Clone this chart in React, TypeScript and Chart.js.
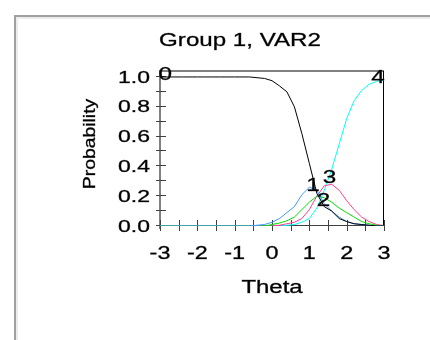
import React, { useEffect, useRef } from "react";
import { Chart, registerables } from "chart.js";

Chart.register(...registerables);

const titleText = "Group 1, VAR2";
const xTitle = "Theta";
const yTitle = "Probability";

const theta = [-3, -2.8, -2.6, -2.4, -2.2, -2, -1.8, -1.6, -1.4, -1.2, -1, -0.8, -0.6, -0.4, -0.2, 0, 0.2, 0.4, 0.6, 0.8, 1, 1.2, 1.4, 1.6, 1.8, 2, 2.2, 2.4, 2.6, 2.8, 3];

const cat0 = [1, 1, 1, 1, 1, 1, 1, 1, 1, 1, 1, 1, 1, 0.995, 0.99, 0.975, 0.94, 0.9, 0.8, 0.62, 0.42, 0.22, 0.13, 0.1, 0.05, 0.03, 0.015, 0.01, 0.005, 0, 0];
const cat1 = [0, 0, 0, 0, 0, 0, 0, 0, 0, 0, 0, 0, 0, 0.005, 0.01, 0.025, 0.05, 0.09, 0.13, 0.21, 0.26, 0.24, 0.15, 0.1, 0.06, 0.03, 0.015, 0.01, 0.005, 0, 0];
const cat2 = [0, 0, 0, 0, 0, 0, 0, 0, 0, 0, 0, 0, 0, 0, 0, 0.01, 0.02, 0.035, 0.06, 0.11, 0.16, 0.2, 0.19, 0.16, 0.12, 0.09, 0.06, 0.03, 0.015, 0.005, 0];
const cat3 = [0, 0, 0, 0, 0, 0, 0, 0, 0, 0, 0, 0, 0, 0, 0, 0, 0.005, 0.015, 0.025, 0.05, 0.11, 0.2, 0.27, 0.28, 0.24, 0.17, 0.11, 0.06, 0.03, 0.01, 0.003];
const cat4 = [0, 0, 0, 0, 0, 0, 0, 0, 0, 0, 0, 0, 0, 0, 0, 0, 0, 0.005, 0.01, 0.025, 0.05, 0.12, 0.24, 0.38, 0.55, 0.72, 0.84, 0.91, 0.95, 0.97, 0.98];

const seriesNames = ["0", "1", "2", "3", "4"];
const seriesValues = [cat0, cat1, cat2, cat3, cat4];
const seriesColors = ["#000000", "#3d9bff", "#00e000", "#ff3d8c", "#00ffff"];
// label anchor positions in data coordinates (theta, probability)
const labelTheta = [-2.86, 1.1, 1.38, 1.54, 2.84];
const labelProb = [1.01, 0.27, 0.17, 0.32, 0.99];

const xTicks = [-3, -2, -1, 0, 1, 2, 3];
const yTicks = [0, 0.2, 0.4, 0.6, 0.8, 1.0];

const FONT = "Arial, 'Liberation Sans', sans-serif";

function wideText(ctx: any, text: string, x: number, y: number, size: number, align: string, sx: number) {
  ctx.save();
  ctx.font = `${size}px ${FONT}`;
  ctx.textAlign = align;
  ctx.textBaseline = "middle";
  ctx.translate(x, y);
  ctx.scale(sx, 1);
  ctx.fillStyle = "#000000";
  ctx.strokeStyle = "rgba(0,0,0,0.6)";
  ctx.lineWidth = 0.5;
  ctx.fillText(text, 0, 0);
  ctx.strokeText(text, 0, 0);
  ctx.restore();
}

const drawPlugin = {
  id: "customAxes",
  beforeDraw(chart: any) {
    const ctx = chart.ctx;
    ctx.save();
    ctx.fillStyle = "#ffffff";
    ctx.fillRect(0, 0, chart.width, chart.height);
    ctx.fillStyle = "#a0a0a0";
    ctx.fillRect(14, 15, 2, chart.height - 15);
    ctx.fillRect(14, 15, chart.width - 14, 2);
    ctx.fillStyle = "#ececec";
    ctx.fillRect(16, 17, 2, chart.height - 17);
    ctx.fillRect(16, 17, chart.width - 16, 2);
    ctx.restore();
  },
  beforeDatasetsDraw(chart: any) {
    const ctx = chart.ctx;
    const xs = chart.scales.x;
    const ys = chart.scales.y;
    const a = chart.chartArea;
    ctx.save();
    ctx.fillStyle = "#808080";
    ctx.fillRect(a.left, a.top - 1, a.right - a.left, 2);
    ctx.fillStyle = "#000000";
    ctx.fillRect(a.right - 1, a.top, 1, a.bottom - a.top);
    ctx.fillStyle = "#808080";
    ctx.fillRect(a.left - 1, a.top - 1, 2, a.bottom - a.top + 4);
    ctx.fillStyle = "#404040";
    ctx.fillRect(a.left, a.bottom - 1, a.right - a.left, 1);
    ctx.strokeStyle = "#404040";
    ctx.lineWidth = 1;
    for (let i = 0; i <= 10; i++) {
      const py = Math.round(ys.getPixelForValue(i / 10)) - 0.5;
      ctx.beginPath();
      ctx.moveTo(a.left - 4, py);
      ctx.lineTo(a.left + 6, py);
      ctx.stroke();
    }
    for (let v = -3; v <= 3.001; v += 0.5) {
      const px = Math.round(xs.getPixelForValue(v)) + 0.5;
      ctx.beginPath();
      ctx.moveTo(px, a.bottom - 6);
      ctx.lineTo(px, a.bottom + 5);
      ctx.stroke();
    }
    yTicks.forEach((t) => {
      wideText(ctx, t.toFixed(1), a.left - 10, ys.getPixelForValue(t) + 1, 17, "right", 1.35);
    });
    xTicks.forEach((t) => {
      wideText(ctx, String(t), xs.getPixelForValue(t), a.bottom + 28, 18, "center", 1.3);
    });
    wideText(ctx, xTitle, (a.left + a.right) / 2, a.bottom + 62, 18, "center", 1.33);
    wideText(ctx, titleText, 240, 41, 19, "center", 1.27);
    ctx.save();
    ctx.translate(90, 144);
    ctx.rotate(-Math.PI / 2);
    wideText(ctx, yTitle, 0, 0, 17, "center", 1.14);
    ctx.restore();
    ctx.restore();
  },
  afterDatasetsDraw(chart: any) {
    const ctx = chart.ctx;
    const xs = chart.scales.x;
    const ys = chart.scales.y;
    seriesNames.forEach((n, i) => {
      wideText(ctx, n, xs.getPixelForValue(labelTheta[i]), ys.getPixelForValue(labelProb[i]), 18, "center", 1.35);
    });
  },
};

export default function App() {
  const ref = useRef<HTMLCanvasElement | null>(null);
  useEffect(() => {
    if (!ref.current) return;
    const chart = new Chart(ref.current, {
      type: "line",
      data: {
        datasets: seriesNames.map((n, i) => ({
          label: n,
          data: theta.map((t, j) => ({ x: t, y: seriesValues[i][j] })),
          borderColor: seriesColors[i],
          borderWidth: 1,
          pointRadius: 0,
          tension: 0,
          fill: false,
        })),
      },
      options: {
        animation: false,
        responsive: false,
        events: [],
        layout: { padding: { left: 160, right: 46, top: 71, bottom: 114 } },
        plugins: { legend: { display: false }, title: { display: false }, tooltip: { enabled: false } },
        scales: {
          x: { type: "linear", min: -3, max: 3, display: false },
          y: { type: "linear", min: 0, max: 1.04, display: false },
        },
      },
      plugins: [drawPlugin],
    });
    return () => chart.destroy();
  }, []);
  return (
    <div style={{ position: "fixed", left: 0, top: 0, width: 430, height: 340, background: "#fff" }}>
      <canvas ref={ref} width={430} height={340} style={{ display: "block" }} />
    </div>
  );
}
